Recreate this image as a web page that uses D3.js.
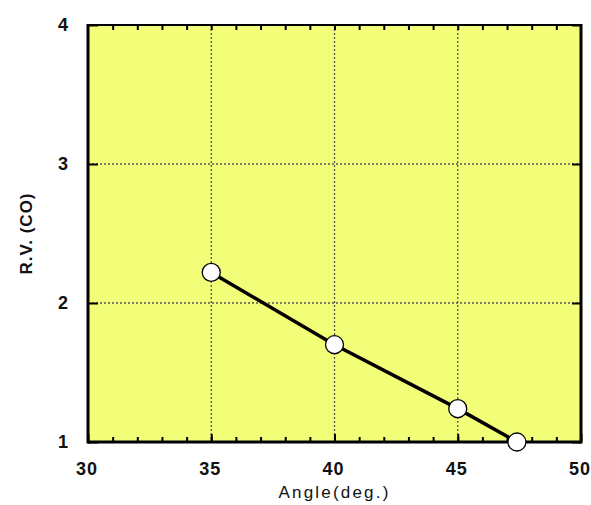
<!DOCTYPE html>
<meta charset="utf-8">
<style>
body {margin: 0; background: #fff;}
.title {font-family: "Liberation Sans", Arial, sans-serif; font-size: 17px; fill: #111;}
</style>
<body>
<script src="https://d3js.org/d3.v7.min.js"></script>
<div id="chart"></div>
</body>
<script>
// data
var angles = [35, 40, 45, 47.4];
var rvCO = [2.22, 1.70, 1.24, 1.00];
var xTicks = [30, 35, 40, 45, 50];
var yTicks = [1, 2, 3, 4];

var width = 591, height = 505;
var margin = {top: 25, right: 10, bottom: 63, left: 88};
var w = width - margin.left - margin.right,
    h = height - margin.top - margin.bottom;

var x = d3.scaleLinear().domain([30, 50]).range([0, w]);
var y = d3.scaleLinear().domain([1, 4]).range([h, 0]);

var svg = d3.select("#chart").append("svg")
    .attr("width", width)
    .attr("height", height);
var g = svg.append("g").attr("transform", "translate(" + margin.left + "," + margin.top + ")");

g.append("rect")
    .attr("width", w).attr("height", h)
    .attr("fill", "#f2fd78");

// grid
g.selectAll(".gx").data(xTicks.slice(1, -1)).enter().append("line")
    .attr("x1", d => x(d)).attr("x2", d => x(d))
    .attr("y1", 0).attr("y2", h)
    .attr("stroke", "#555").attr("stroke-width", 1.3).attr("stroke-dasharray", "2,2");
g.selectAll(".gy").data(yTicks.slice(1, -1)).enter().append("line")
    .attr("y1", d => y(d)).attr("y2", d => y(d))
    .attr("x1", 0).attr("x2", w)
    .attr("stroke", "#555").attr("stroke-width", 1.3).attr("stroke-dasharray", "2,2");

function tickFont(sel) {
  sel.style("font-family", "'Liberation Sans', Arial, sans-serif")
     .style("font-size", "18px")
     .style("font-weight", "bold")
     .attr("fill", "#111");
}

// axes
var minor = d3.range(31, 50);
var xb = g.append("g").attr("transform", "translate(0," + h + ")")
    .call(d3.axisBottom(x).tickValues(minor).tickSize(-5).tickFormat(""));
xb.selectAll("line").attr("stroke", "#000").attr("stroke-width", 2);
xb.select(".domain").remove();
var xt = g.append("g")
    .call(d3.axisTop(x).tickValues(minor).tickSize(-5).tickFormat(""));
xt.selectAll("line").attr("stroke", "#000").attr("stroke-width", 2);
xt.select(".domain").remove();

var xl = g.append("g").attr("transform", "translate(0," + h + ")")
    .call(d3.axisBottom(x).tickValues(xTicks).tickSize(-8).tickPadding(20).tickFormat(d3.format("d")));
xl.selectAll("line").attr("stroke", "#000").attr("stroke-width", 2);
xl.select(".domain").remove();
xl.selectAll("text").call(tickFont).attr("letter-spacing", "1px").attr("dx", -1.5);

var yl = g.append("g")
    .call(d3.axisLeft(y).tickValues(yTicks).tickSize(-10).tickPadding(20).tickFormat(d3.format("d")));
yl.selectAll("line").attr("stroke", "#000").attr("stroke-width", 2);
yl.select(".domain").remove();
yl.selectAll("text").call(tickFont);
var yr = g.append("g").attr("transform", "translate(" + w + ",0)")
    .call(d3.axisRight(y).tickValues(yTicks).tickSize(-9).tickFormat(""));
yr.selectAll("line").attr("stroke", "#000").attr("stroke-width", 2);
yr.select(".domain").remove();

// frame
g.append("line").attr("x1", 0).attr("x2", w).attr("y1", 0).attr("y2", 0)
    .attr("stroke", "#000").attr("stroke-width", 2);
g.append("line").attr("x1", 0).attr("x2", w).attr("y1", h).attr("y2", h)
    .attr("stroke", "#000").attr("stroke-width", 3);
g.append("line").attr("x1", 0).attr("x2", 0).attr("y1", -1).attr("y2", h + 1.5)
    .attr("stroke", "#000").attr("stroke-width", 3);
g.append("line").attr("x1", w).attr("x2", w).attr("y1", -1).attr("y2", h + 1.5)
    .attr("stroke", "#000").attr("stroke-width", 3);

// series
var pts = angles.map((a, i) => [a, rvCO[i]]);
g.append("path").datum(pts)
    .attr("fill", "none").attr("stroke", "#000").attr("stroke-width", 3.5)
    .attr("d", d3.line().x(d => x(d[0])).y(d => y(d[1])));
g.selectAll(".pt").data(pts).enter().append("circle")
    .attr("cx", d => x(d[0])).attr("cy", d => y(d[1])).attr("r", 9)
    .attr("fill", "#fff").attr("stroke", "#000").attr("stroke-width", 1.3);

// titles
svg.append("text").attr("class", "title")
    .attr("x", margin.left + w / 2).attr("y", 498)
    .attr("text-anchor", "middle").attr("letter-spacing", "2.2px")
    .text("Angle(deg.)");
svg.append("text").attr("class", "title")
    .attr("transform", "translate(32," + (margin.top + h / 2) + ") rotate(-90)")
    .attr("text-anchor", "middle").attr("font-weight", "bold").attr("letter-spacing", "1px")
    .text("R.V. (CO)");
</script>
